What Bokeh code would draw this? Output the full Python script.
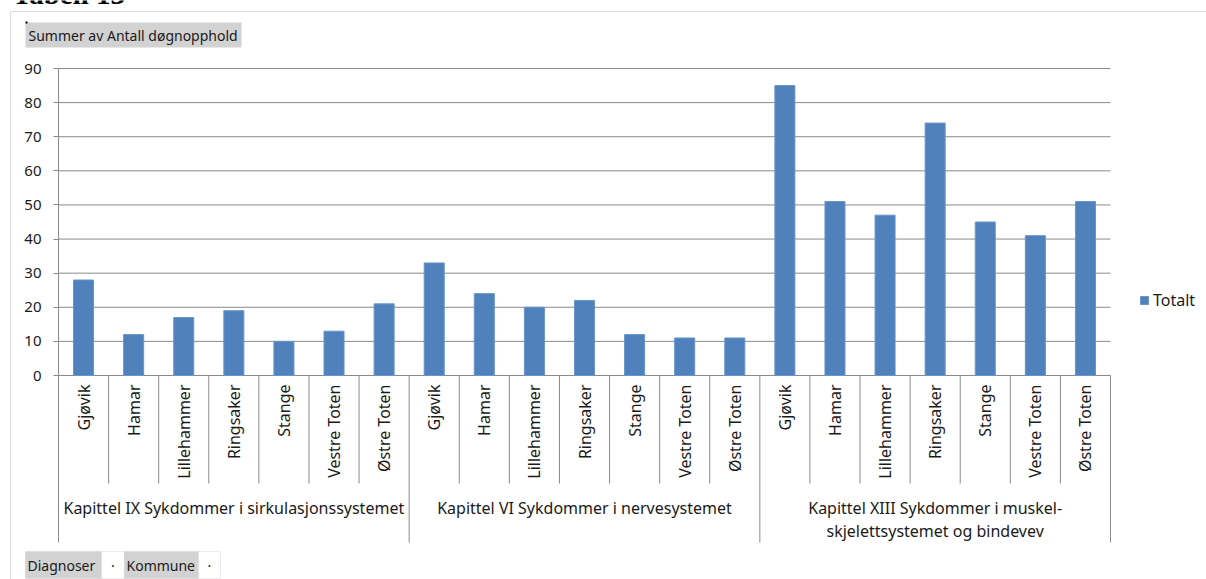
from math import pi

from bokeh.core.properties import value
from bokeh.embed import file_html
from bokeh.models import (BoxAnnotation, FixedTicker, Label, Legend,
                          LegendItem, Range1d)
from bokeh.plotting import figure
from bokeh.resources import INLINE

# ---- data -------------------------------------------------------------
kapitler = [
    "Kapittel IX Sykdommer i sirkulasjonssystemet",
    "Kapittel VI Sykdommer i nervesystemet",
    "Kapittel XIII Sykdommer i muskel-\nskjelettsystemet og bindevev",
]
kommuner = ["Gjøvik", "Hamar", "Lillehammer", "Ringsaker", "Stange",
            "Vestre Toten", "Østre Toten"]
sirkulasjon = [28, 12, 17, 19, 10, 13, 21]
nerve = [33, 24, 20, 22, 12, 11, 11]
muskel = [85, 51, 47, 74, 45, 41, 51]
y_ticks = [0, 10, 20, 30, 40, 50, 60, 70, 80, 90]

serier = [sirkulasjon, nerve, muskel]
totalt = [v for s in serier for v in s]
labels = [m for _ in kapitler for m in kommuner]
n_kom = len(kommuner)
n_cat = len(totalt)
x_cat = [i + 0.5 for i in range(n_cat)]                 # category centres
x_kap = [g * n_kom + n_kom / 2 for g in range(len(kapitler))]

# ---- layout (pixels) --------------------------------------------------
W, H = 1206, 579
LEFT, RIGHT, TOP, ZERO, BOTTOM = 58, 1110, 68, 375, 542
Y_MAX = y_ticks[-1]
PX_Y = (ZERO - TOP) / Y_MAX
PX_X = (RIGHT - LEFT) / n_cat
FONT = "Noto Sans"
FS_AXIS = "15px"
FS_CAT = "16px"
FS_BTN = "14px"
GRID = "#8a8a8a"
INK = "#1a1a1a"


def dy(py):
    """pixel row -> data y"""
    return (ZERO - py) / PX_Y


def dx(px):
    """pixel column -> data x"""
    return (px - LEFT) / PX_X


p = figure(width=W, height=H,
           x_range=Range1d(dx(0), dx(W)), y_range=Range1d(dy(H), dy(0)),
           x_axis_location=None, y_axis_location="left",
           output_backend="svg", toolbar_location=None,
           min_border_left=0, min_border_right=0,
           min_border_top=0, min_border_bottom=0)
p.outline_line_color = None
p.background_fill_color = "white"
p.border_fill_color = "white"
p.grid.grid_line_color = None

# value axis, drawn at the left edge of the first category
ax = p.yaxis[0]
ax.fixed_location = 0
ax.bounds = (dy(BOTTOM), Y_MAX)
ax.ticker = FixedTicker(ticks=y_ticks)
ax.axis_line_color = GRID
ax.major_tick_line_color = GRID
ax.major_tick_out = 5
ax.major_tick_in = 0
ax.minor_tick_line_color = None
ax.major_label_standoff = 12
ax.major_label_text_font = FONT
ax.major_label_text_font_size = FS_AXIS
ax.major_label_text_color = INK

# horizontal gridlines across the category extent
p.segment(x0=[0] * len(y_ticks), x1=[n_cat] * len(y_ticks), y0=y_ticks,
          y1=y_ticks, line_color=GRID, line_width=1)

# bars
bars = p.vbar(x=x_cat, top=totalt, width=0.4, fill_color="#4F81BD",
              line_color="#6a95c9", line_width=1)

# category separators below the zero line
short_x = [g * n_kom + k for g in range(len(kapitler)) for k in range(1, n_kom)]
long_x = [g * n_kom for g in range(1, len(kapitler) + 1)]
p.segment(x0=short_x, x1=short_x, y0=[0] * len(short_x),
          y1=[dy(483)] * len(short_x), line_color=GRID, line_width=1)
p.segment(x0=long_x, x1=long_x, y0=[0] * len(long_x),
          y1=[dy(BOTTOM)] * len(long_x), line_color=GRID, line_width=1)

# municipality labels (rotated) and chapter labels
p.text(x=x_cat, y=[dy(384)] * n_cat, text=labels,
       angle=pi / 2, text_align="right", text_baseline="middle",
       text_font=value(FONT), text_font_size=FS_CAT, text_color=INK)
p.text(x=x_kap, y=[dy(496)] * len(kapitler), text=kapitler,
       text_align="center", text_baseline="top", text_line_height=1.06,
       text_font=value(FONT), text_font_size=FS_CAT, text_color=INK)

# legend
legend = Legend(items=[LegendItem(label="Totalt", renderers=[bars])],
                location=(1139, 268), glyph_width=10, glyph_height=10,
                padding=0, margin=0, spacing=0, label_standoff=4,
                border_line_color=None, background_fill_alpha=0,
                label_text_font=FONT, label_text_font_size=FS_CAT,
                label_text_color=INK)
p.add_layout(legend)

# chart-area border
p.add_layout(BoxAnnotation(left=dx(10), right=dx(W + 50), top=dy(11),
                           bottom=dy(H + 50), fill_alpha=0,
                           line_color="#868686", line_width=1))

# heading above the chart
p.add_layout(Label(x=dx(12), y=dy(-7), text="Tabell 13",
                   text_font="Liberation Serif", text_font_style="bold",
                   text_font_size="29px", text_color="black",
                   text_baseline="alphabetic"))

# field buttons
BTN = "#d2d2d2"
p.add_layout(BoxAnnotation(left=dx(25), right=dx(241), top=dy(22), bottom=dy(47),
                           fill_color=BTN, fill_alpha=1, line_color=None))
p.add_layout(BoxAnnotation(left=dx(25), right=dx(27), top=dy(21), bottom=dy(23),
                           fill_color="black", fill_alpha=1, line_color=None))
p.add_layout(Label(x=dx(28), y=dy(35), text="Summer av Antall døgnopphold",
                   text_font=FONT, text_font_size=FS_BTN, text_color=INK,
                   text_baseline="middle"))

buttons = [("Diagnoser", 25, 101, 124), ("Kommune", 124, 198, 220)]
for name, x0, x1, x2 in buttons:
    p.add_layout(BoxAnnotation(left=dx(x0), right=dx(x1), top=dy(551),
                               bottom=dy(578), fill_color=BTN, fill_alpha=1,
                               line_color="#c4c4c4"))
    p.add_layout(BoxAnnotation(left=dx(x1), right=dx(x2), top=dy(551),
                               bottom=dy(578), fill_color="white", fill_alpha=1,
                               line_color="#c4c4c4"))
    p.add_layout(Label(x=dx(x0 + 2), y=dy(564.5), text=name, text_font=FONT,
                       text_font_size=FS_BTN, text_color=INK,
                       text_baseline="middle"))
    p.add_layout(Label(x=dx((x1 + x2) / 2), y=dy(564.5), text="·",
                       text_font=FONT, text_font_size=FS_BTN, text_color=INK,
                       text_align="center", text_baseline="middle"))

open("out.html", "w").write(file_html(p, INLINE))
